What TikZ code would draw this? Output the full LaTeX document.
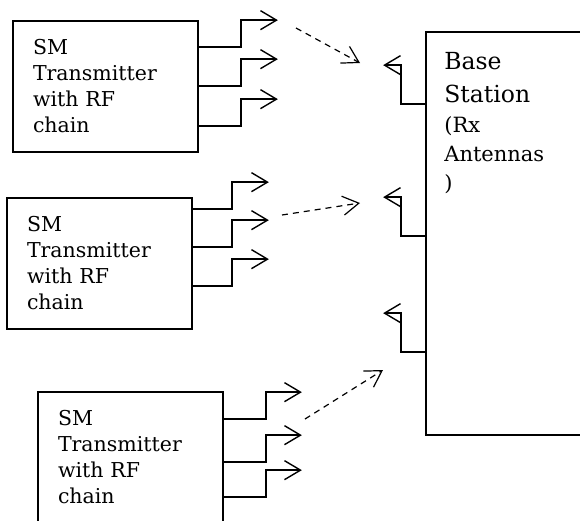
\documentclass[tikz,border=0pt]{standalone}
\usepackage{fontspec}
\setmainfont{DejaVu Serif}
\usepackage{tikz}
\usetikzlibrary{calc}
\usetikzlibrary{arrows.meta}
\usetikzlibrary{positioning}
\tikzset{>={Straight Barb[length=16pt, width=19pt]}}
\tikzstyle{unit} = [rectangle, draw=black, line width=1.7pt, minimum width=185pt, minimum height=131pt, text width=145pt, align=left, inner sep=0, font=\fontsize{20.5}{26}\selectfont]
\tikzstyle{station} = [rectangle, draw=black, line width=1.7pt, minimum width=160pt, minimum height=403pt, inner sep=0]
\tikzstyle{ant} = [->, line width=1.4pt]
\tikzstyle{link} = [->, line width=1.2pt, dash pattern=on 6pt off 5pt]

\begin{document}
\begin{tikzpicture}[x=1pt, y=-1pt]
\useasboundingbox (0,0) rectangle (580,520);
%\draw [help lines, step=20] (0,0) grid (580,520);
\node [unit] (T1) at (105.5, 86.5) {SM\\Transmitter\\with RF\\chain};
\node [unit] (T2) at (99.5, 263.5) {SM\\Transmitter\\with RF\\chain};
\node [unit] (T3) at (130.5, 457.5) {SM\\Transmitter\\with RF\\chain};
\node [station] (BS) at (506, 233.5) {};
\node [draw=none, inner sep=0, anchor=north west, align=left, font=\fontsize{21}{29}\selectfont] (BL) at ($(BS.north west)+(19,21)$)
  {{\fontsize{23.5}{34}\selectfont Base}\\[4pt]{\fontsize{23.5}{34}\selectfont Station}\\[1pt](Rx\\Antennas\\)};
% transmit antennas
\foreach \dy in {27, 66, 106} \draw [ant] ($(T1.north east)+(0,\dy)$) -| ++(42,-27) -- ++(37,0);
\foreach \dy in {12, 50, 89} \draw [ant] ($(T2.north east)+(0,\dy)$) -| ++(39,-27) -- ++(37,0);
\foreach \dy in {28, 71, 106} \draw [ant] ($(T3.north east)+(0,\dy)$) -| ++(42,-27) -- ++(36,0);
% receive antennas
\foreach \dy in {73, 205, 321} \draw [ant] ($(BS.north west)+(0,\dy)$) -| ++(-24,-39) -- ++(-18,0);
% links
\coordinate (s1) at (296, 28);
\coordinate (e1) at (360, 63);
\coordinate (s2) at (282, 215);
\coordinate (e2) at (360, 203);
\coordinate (s3) at (305, 419);
\coordinate (e3) at (383, 370);
\draw [link] (s1) to (e1);
\draw [link] (s2) to (e2);
\draw [link] (s3) to (e3);
\end{tikzpicture}
\end{document}
